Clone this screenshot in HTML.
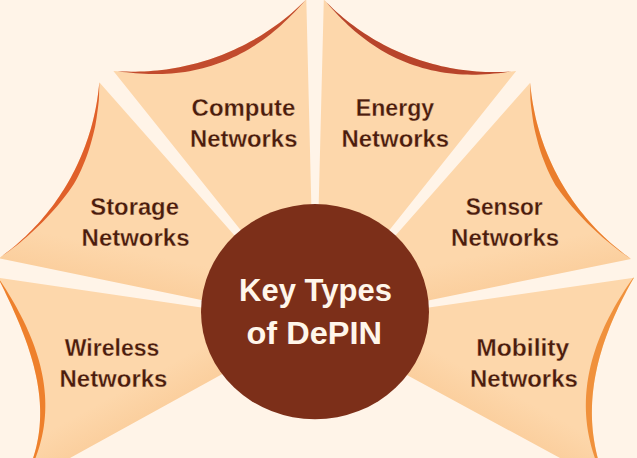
<!DOCTYPE html>
<html><head><meta charset="utf-8"><title>Key Types of DePIN</title>
<style>html,body{margin:0;padding:0;background:#fff4e8;}body{width:637px;height:458px;overflow:hidden}svg{display:block}</style>
</head><body>
<svg width="637" height="458" viewBox="0 0 637 458">
<rect width="637" height="458" fill="#fff4e8"/>
<defs><linearGradient id="gS" gradientUnits="userSpaceOnUse" x1="100.0" y1="279.0" x2="106.9" y2="245.7"><stop offset="0" stop-color="#fbcf9e"/><stop offset="1" stop-color="#fdd7ab"/></linearGradient><linearGradient id="gN" gradientUnits="userSpaceOnUse" x1="530.0" y1="279.6" x2="523.2" y2="246.3"><stop offset="0" stop-color="#fbcf9e"/><stop offset="1" stop-color="#fdd7ab"/></linearGradient><linearGradient id="gW" gradientUnits="userSpaceOnUse" x1="145.0" y1="416.7" x2="128.6" y2="386.9"><stop offset="0" stop-color="#fbcf9e"/><stop offset="1" stop-color="#fdd7ab"/></linearGradient><linearGradient id="gM" gradientUnits="userSpaceOnUse" x1="485.0" y1="417.3" x2="501.2" y2="387.4"><stop offset="0" stop-color="#fbcf9e"/><stop offset="1" stop-color="#fdd7ab"/></linearGradient></defs>
<path d="M113.40,70.90 L117.81,71.21 L122.23,71.45 L126.65,71.60 L131.08,71.68 L135.50,71.67 L139.92,71.58 L144.34,71.42 L148.76,71.17 L153.17,70.85 L157.58,70.44 L161.98,69.95 L166.36,69.39 L170.74,68.74 L175.11,68.02 L179.46,67.21 L183.79,66.33 L188.11,65.37 L192.41,64.33 L196.69,63.21 L200.95,62.02 L205.19,60.75 L209.40,59.40 L213.59,57.97 L217.75,56.47 L221.89,54.90 L225.99,53.25 L230.07,51.52 L234.11,49.73 L238.12,47.86 L242.09,45.91 L246.03,43.90 L249.93,41.81 L253.80,39.66 L257.62,37.43 L261.40,35.14 L265.14,32.77 L268.84,30.34 L272.49,27.84 L276.10,25.28 L279.66,22.65 L283.17,19.96 L286.63,17.21 L290.04,14.39 L293.40,11.51 L296.71,8.57 L299.96,5.57 L303.16,2.51 L306.30,-0.60 L314.19,322.16 Z" fill="#fdd7ab"/>
<path d="M113.40,70.90 L117.81,71.21 L122.23,71.45 L126.65,71.60 L131.08,71.68 L135.50,71.67 L139.92,71.58 L144.34,71.42 L148.76,71.17 L153.17,70.85 L157.58,70.44 L161.98,69.95 L166.36,69.39 L170.74,68.74 L175.11,68.02 L179.46,67.21 L183.79,66.33 L188.11,65.37 L192.41,64.33 L196.69,63.21 L200.95,62.02 L205.19,60.75 L209.40,59.40 L213.59,57.97 L217.75,56.47 L221.89,54.90 L225.99,53.25 L230.07,51.52 L234.11,49.73 L238.12,47.86 L242.09,45.91 L246.03,43.90 L249.93,41.81 L253.80,39.66 L257.62,37.43 L261.40,35.14 L265.14,32.77 L268.84,30.34 L272.49,27.84 L276.10,25.28 L279.66,22.65 L283.17,19.96 L286.63,17.21 L290.04,14.39 L293.40,11.51 L296.71,8.57 L299.96,5.57 L303.16,2.51 L306.30,-0.60 L306.30,-0.60 L303.27,2.63 L300.26,5.89 L297.23,9.14 L294.16,12.38 L291.04,15.58 L287.87,18.74 L284.64,21.85 L281.35,24.90 L278.00,27.90 L274.58,30.83 L271.09,33.70 L267.54,36.48 L263.92,39.19 L260.23,41.82 L256.48,44.36 L252.67,46.81 L248.79,49.17 L244.86,51.43 L240.86,53.60 L236.81,55.66 L232.71,57.62 L228.56,59.47 L224.36,61.21 L220.12,62.85 L215.83,64.37 L211.51,65.79 L207.16,67.09 L202.77,68.28 L198.35,69.35 L193.92,70.32 L189.46,71.17 L184.98,71.90 L180.49,72.53 L175.99,73.05 L171.48,73.46 L166.97,73.76 L162.46,73.96 L157.95,74.06 L153.44,74.07 L148.94,73.98 L144.46,73.81 L139.98,73.55 L135.52,73.22 L131.07,72.83 L126.63,72.37 L122.21,71.88 L117.80,71.37 L113.40,70.90 Z" fill="#c24b2d"/>
<path d="M516.20,71.00 L511.79,71.38 L507.38,71.67 L502.96,71.88 L498.54,72.01 L494.12,72.05 L489.69,72.01 L485.27,71.89 L480.86,71.69 L476.44,71.40 L472.03,71.03 L467.63,70.58 L463.24,70.05 L458.86,69.43 L454.50,68.73 L450.14,67.95 L445.80,67.09 L441.48,66.15 L437.18,65.12 L432.90,64.02 L428.63,62.84 L424.40,61.57 L420.18,60.23 L415.99,58.81 L411.83,57.31 L407.70,55.73 L403.60,54.08 L399.53,52.34 L395.49,50.54 L391.49,48.65 L387.52,46.70 L383.59,44.67 L379.70,42.56 L375.85,40.38 L372.05,38.13 L368.28,35.81 L364.56,33.42 L360.88,30.97 L357.25,28.44 L353.67,25.84 L350.14,23.18 L346.66,20.45 L343.23,17.66 L339.85,14.80 L336.53,11.88 L333.26,8.90 L330.05,5.86 L326.89,2.76 L323.80,-0.40 L315.74,322.49 Z" fill="#fdd7ab"/>
<path d="M516.20,71.00 L511.79,71.38 L507.38,71.67 L502.96,71.88 L498.54,72.01 L494.12,72.05 L489.69,72.01 L485.27,71.89 L480.86,71.69 L476.44,71.40 L472.03,71.03 L467.63,70.58 L463.24,70.05 L458.86,69.43 L454.50,68.73 L450.14,67.95 L445.80,67.09 L441.48,66.15 L437.18,65.12 L432.90,64.02 L428.63,62.84 L424.40,61.57 L420.18,60.23 L415.99,58.81 L411.83,57.31 L407.70,55.73 L403.60,54.08 L399.53,52.34 L395.49,50.54 L391.49,48.65 L387.52,46.70 L383.59,44.67 L379.70,42.56 L375.85,40.38 L372.05,38.13 L368.28,35.81 L364.56,33.42 L360.88,30.97 L357.25,28.44 L353.67,25.84 L350.14,23.18 L346.66,20.45 L343.23,17.66 L339.85,14.80 L336.53,11.88 L333.26,8.90 L330.05,5.86 L326.89,2.76 L323.80,-0.40 L323.80,-0.40 L326.78,2.87 L329.75,6.17 L332.73,9.47 L335.76,12.74 L338.84,15.98 L341.97,19.17 L345.16,22.32 L348.42,25.41 L351.75,28.44 L355.14,31.41 L358.60,34.30 L362.14,37.12 L365.74,39.86 L369.41,42.51 L373.14,45.07 L376.95,47.55 L380.81,49.93 L384.74,52.21 L388.73,54.39 L392.77,56.46 L396.87,58.43 L401.02,60.29 L405.22,62.04 L409.47,63.68 L413.75,65.21 L418.08,66.62 L422.44,67.92 L426.83,69.10 L431.25,70.17 L435.69,71.12 L440.16,71.95 L444.64,72.67 L449.14,73.28 L453.64,73.77 L458.15,74.15 L462.67,74.43 L467.18,74.59 L471.70,74.66 L476.20,74.63 L480.70,74.50 L485.19,74.28 L489.66,73.98 L494.12,73.60 L498.56,73.16 L502.99,72.65 L507.40,72.10 L511.80,71.53 L516.20,71.00 Z" fill="#b8442b"/>
<path d="M99.29,82.34 L98.89,86.68 L98.41,91.01 L97.85,95.33 L97.22,99.65 L96.51,103.94 L95.72,108.23 L94.85,112.50 L93.90,116.75 L92.88,120.99 L91.78,125.20 L90.60,129.40 L89.35,133.57 L88.02,137.72 L86.62,141.85 L85.14,145.94 L83.59,150.02 L81.97,154.06 L80.27,158.07 L78.50,162.05 L76.65,166.00 L74.74,169.91 L72.75,173.79 L70.70,177.63 L68.57,181.43 L66.38,185.20 L64.11,188.92 L61.78,192.60 L59.39,196.24 L56.92,199.84 L54.40,203.39 L51.81,206.89 L49.15,210.34 L46.44,213.75 L43.66,217.11 L40.82,220.41 L37.92,223.67 L34.96,226.87 L31.95,230.01 L28.88,233.10 L25.75,236.14 L22.57,239.11 L19.34,242.03 L16.05,244.89 L12.71,247.69 L9.32,250.43 L5.88,253.10 L2.39,255.72 L-1.14,258.27 L311.57,322.74 Z" fill="url(#gS)"/>
<path d="M99.29,82.34 L98.89,86.68 L98.41,91.01 L97.85,95.33 L97.22,99.65 L96.51,103.94 L95.72,108.23 L94.85,112.50 L93.90,116.75 L92.88,120.99 L91.78,125.20 L90.60,129.40 L89.35,133.57 L88.02,137.72 L86.62,141.85 L85.14,145.94 L83.59,150.02 L81.97,154.06 L80.27,158.07 L78.50,162.05 L76.65,166.00 L74.74,169.91 L72.75,173.79 L70.70,177.63 L68.57,181.43 L66.38,185.20 L64.11,188.92 L61.78,192.60 L59.39,196.24 L56.92,199.84 L54.40,203.39 L51.81,206.89 L49.15,210.34 L46.44,213.75 L43.66,217.11 L40.82,220.41 L37.92,223.67 L34.96,226.87 L31.95,230.01 L28.88,233.10 L25.75,236.14 L22.57,239.11 L19.34,242.03 L16.05,244.89 L12.71,247.69 L9.32,250.43 L5.88,253.10 L2.39,255.72 L-1.14,258.27 L-1.14,258.27 L2.47,255.82 L6.04,253.31 L9.56,250.73 L13.04,248.09 L16.48,245.40 L19.89,242.66 L23.25,239.85 L26.57,236.99 L29.85,234.09 L33.09,231.12 L36.29,228.11 L39.47,225.07 L42.59,221.96 L45.68,218.81 L48.71,215.60 L51.70,212.34 L54.64,209.03 L57.54,205.67 L60.38,202.25 L63.17,198.78 L65.89,195.25 L68.54,191.67 L71.15,188.04 L73.69,184.36 L75.87,180.46 L77.98,176.53 L79.92,172.51 L81.76,168.44 L83.53,164.34 L85.19,160.21 L86.78,156.04 L88.28,151.85 L89.63,147.61 L90.89,143.34 L92.06,139.05 L93.18,134.76 L94.23,130.45 L95.20,126.13 L95.97,121.76 L96.65,117.39 L97.25,113.01 L97.85,108.64 L98.39,104.27 L98.84,99.90 L99.05,95.50 L99.14,91.10 L99.25,86.72 L99.29,82.34 Z" fill="#e0602a"/>
<path d="M530.17,82.64 L530.56,86.99 L531.04,91.33 L531.60,95.66 L532.23,99.99 L532.94,104.30 L533.74,108.59 L534.61,112.87 L535.55,117.14 L536.58,121.38 L537.68,125.61 L538.86,129.82 L540.12,134.00 L541.45,138.16 L542.86,142.30 L544.34,146.40 L545.90,150.49 L547.53,154.54 L549.23,158.56 L551.01,162.55 L552.86,166.51 L554.78,170.43 L556.78,174.32 L558.84,178.17 L560.97,181.98 L563.18,185.75 L565.45,189.48 L567.79,193.17 L570.19,196.82 L572.66,200.42 L575.20,203.98 L577.80,207.49 L580.47,210.95 L583.19,214.36 L585.98,217.72 L588.83,221.03 L591.74,224.29 L594.71,227.49 L597.74,230.64 L600.82,233.74 L603.96,236.78 L607.15,239.76 L610.40,242.68 L613.70,245.54 L617.06,248.34 L620.46,251.08 L623.91,253.76 L627.41,256.37 L630.96,258.92 L318.40,322.97 Z" fill="url(#gN)"/>
<path d="M530.17,82.64 L530.56,86.99 L531.04,91.33 L531.60,95.66 L532.23,99.99 L532.94,104.30 L533.74,108.59 L534.61,112.87 L535.55,117.14 L536.58,121.38 L537.68,125.61 L538.86,129.82 L540.12,134.00 L541.45,138.16 L542.86,142.30 L544.34,146.40 L545.90,150.49 L547.53,154.54 L549.23,158.56 L551.01,162.55 L552.86,166.51 L554.78,170.43 L556.78,174.32 L558.84,178.17 L560.97,181.98 L563.18,185.75 L565.45,189.48 L567.79,193.17 L570.19,196.82 L572.66,200.42 L575.20,203.98 L577.80,207.49 L580.47,210.95 L583.19,214.36 L585.98,217.72 L588.83,221.03 L591.74,224.29 L594.71,227.49 L597.74,230.64 L600.82,233.74 L603.96,236.78 L607.15,239.76 L610.40,242.68 L613.70,245.54 L617.06,248.34 L620.46,251.08 L623.91,253.76 L627.41,256.37 L630.96,258.92 L630.96,258.92 L627.33,256.48 L623.74,253.98 L620.20,251.41 L616.70,248.77 L613.24,246.09 L609.81,243.35 L606.42,240.55 L603.08,237.70 L599.77,234.80 L596.51,231.84 L593.28,228.84 L590.07,225.81 L586.92,222.71 L583.81,219.56 L580.73,216.36 L577.72,213.10 L574.74,209.80 L571.81,206.44 L568.93,203.03 L566.11,199.56 L563.36,196.04 L560.66,192.45 L558.03,188.82 L555.44,185.14 L553.25,181.23 L551.13,177.28 L549.18,173.24 L547.34,169.15 L545.58,165.03 L543.91,160.87 L542.33,156.68 L540.83,152.47 L539.49,148.20 L538.25,143.91 L537.09,139.60 L535.98,135.28 L534.95,130.95 L533.99,126.61 L533.24,122.22 L532.59,117.82 L532.02,113.42 L531.43,109.04 L530.92,104.65 L530.48,100.26 L530.31,95.84 L530.25,91.43 L530.17,87.03 L530.17,82.64 Z" fill="#ea7d2c"/>
<path d="M-2.00,277.70 L-0.36,280.99 L1.26,284.29 L2.88,287.58 L4.47,290.87 L6.06,294.17 L7.62,297.46 L9.17,300.75 L10.69,304.05 L12.20,307.34 L13.68,310.63 L15.13,313.93 L16.56,317.22 L17.96,320.51 L19.34,323.81 L20.68,327.10 L21.99,330.39 L23.27,333.68 L24.51,336.98 L25.72,340.27 L26.88,343.56 L28.01,346.86 L29.10,350.15 L30.15,353.44 L31.15,356.74 L32.11,360.03 L33.02,363.32 L33.89,366.62 L34.70,369.91 L35.47,373.20 L36.18,376.50 L36.84,379.79 L37.44,383.08 L37.99,386.38 L38.48,389.67 L38.91,392.96 L39.28,396.26 L39.58,399.55 L39.83,402.84 L40.01,406.14 L40.12,409.43 L40.16,412.72 L40.14,416.02 L40.04,419.31 L39.87,422.60 L39.63,425.89 L39.31,429.19 L38.92,432.48 L38.45,435.77 L37.90,439.07 L37.27,442.36 L36.55,445.65 L35.75,448.95 L34.87,452.24 L33.90,455.53 L32.84,458.83 L31.69,462.12 L30.46,465.41 L29.12,468.71 L27.70,472.00 L44.59,472.00 L313.28,323.99 Z" fill="url(#gW)"/>
<path d="M-2.00,277.70 L-0.36,280.99 L1.26,284.29 L2.88,287.58 L4.47,290.87 L6.06,294.17 L7.62,297.46 L9.17,300.75 L10.69,304.05 L12.20,307.34 L13.68,310.63 L15.13,313.93 L16.56,317.22 L17.96,320.51 L19.34,323.81 L20.68,327.10 L21.99,330.39 L23.27,333.68 L24.51,336.98 L25.72,340.27 L26.88,343.56 L28.01,346.86 L29.10,350.15 L30.15,353.44 L31.15,356.74 L32.11,360.03 L33.02,363.32 L33.89,366.62 L34.70,369.91 L35.47,373.20 L36.18,376.50 L36.84,379.79 L37.44,383.08 L37.99,386.38 L38.48,389.67 L38.91,392.96 L39.28,396.26 L39.58,399.55 L39.83,402.84 L40.01,406.14 L40.12,409.43 L40.16,412.72 L40.14,416.02 L40.04,419.31 L39.87,422.60 L39.63,425.89 L39.31,429.19 L38.92,432.48 L38.45,435.77 L37.90,439.07 L37.27,442.36 L36.55,445.65 L35.75,448.95 L34.87,452.24 L33.90,455.53 L32.84,458.83 L31.69,462.12 L30.46,465.41 L29.12,468.71 L27.70,472.00 L29.32,472.00 L30.92,468.71 L32.42,465.41 L33.84,462.12 L35.17,458.83 L36.41,455.53 L37.57,452.24 L38.64,448.95 L39.64,445.65 L40.54,442.36 L41.37,439.07 L42.12,435.77 L42.78,432.48 L43.37,429.19 L43.88,425.89 L44.31,422.60 L44.66,419.31 L44.94,416.02 L45.14,412.72 L45.26,409.43 L45.31,406.14 L45.29,402.84 L45.20,399.55 L45.04,396.26 L44.80,392.96 L44.49,389.67 L44.12,386.38 L43.68,383.08 L43.17,379.79 L42.59,376.50 L41.95,373.20 L41.24,369.91 L40.47,366.62 L39.63,363.32 L38.73,360.03 L37.77,356.74 L36.75,353.44 L35.67,350.15 L34.52,346.86 L33.32,343.56 L32.06,340.27 L30.75,336.98 L29.38,333.68 L27.95,330.39 L26.47,327.10 L24.93,323.81 L23.34,320.51 L21.70,317.22 L20.00,313.93 L18.26,310.63 L16.46,307.34 L14.62,304.05 L12.73,300.75 L10.79,297.46 L8.80,294.17 L6.77,290.87 L4.69,287.58 L2.56,284.29 L0.40,280.99 L-1.81,277.70 Z" fill="#ee802c"/>
<path d="M633.89,277.70 L632.02,280.99 L630.19,284.29 L628.39,287.58 L626.62,290.87 L624.90,294.17 L623.21,297.46 L621.55,300.75 L619.94,304.05 L618.36,307.34 L616.82,310.63 L615.32,313.93 L613.87,317.22 L612.45,320.51 L611.08,323.81 L609.74,327.10 L608.45,330.39 L607.21,333.68 L606.00,336.98 L604.85,340.27 L603.73,343.56 L602.67,346.86 L601.64,350.15 L600.67,353.44 L599.74,356.74 L598.87,360.03 L598.04,363.32 L597.26,366.62 L596.53,369.91 L595.85,373.20 L595.22,376.50 L594.65,379.79 L594.12,383.08 L593.65,386.38 L593.24,389.67 L592.87,392.96 L592.57,396.26 L592.31,399.55 L592.12,402.84 L591.98,406.14 L591.90,409.43 L591.87,412.72 L591.91,416.02 L592.00,419.31 L592.15,422.60 L592.37,425.89 L592.64,429.19 L592.98,432.48 L593.38,435.77 L593.84,439.07 L594.36,442.36 L594.95,445.65 L595.60,448.95 L596.32,452.24 L597.10,455.53 L597.95,458.83 L598.87,462.12 L599.85,465.41 L600.91,468.71 L602.03,472.00 L585.82,472.00 L313.38,324.27 Z" fill="url(#gM)"/>
<path d="M633.89,277.70 L632.02,280.99 L630.19,284.29 L628.39,287.58 L626.62,290.87 L624.90,294.17 L623.21,297.46 L621.55,300.75 L619.94,304.05 L618.36,307.34 L616.82,310.63 L615.32,313.93 L613.87,317.22 L612.45,320.51 L611.08,323.81 L609.74,327.10 L608.45,330.39 L607.21,333.68 L606.00,336.98 L604.85,340.27 L603.73,343.56 L602.67,346.86 L601.64,350.15 L600.67,353.44 L599.74,356.74 L598.87,360.03 L598.04,363.32 L597.26,366.62 L596.53,369.91 L595.85,373.20 L595.22,376.50 L594.65,379.79 L594.12,383.08 L593.65,386.38 L593.24,389.67 L592.87,392.96 L592.57,396.26 L592.31,399.55 L592.12,402.84 L591.98,406.14 L591.90,409.43 L591.87,412.72 L591.91,416.02 L592.00,419.31 L592.15,422.60 L592.37,425.89 L592.64,429.19 L592.98,432.48 L593.38,435.77 L593.84,439.07 L594.36,442.36 L594.95,445.65 L595.60,448.95 L596.32,452.24 L597.10,455.53 L597.95,458.83 L598.87,462.12 L599.85,465.41 L600.91,468.71 L602.03,472.00 L600.44,472.00 L599.00,468.71 L597.65,465.41 L596.37,462.12 L595.16,458.83 L594.03,455.53 L592.98,452.24 L592.00,448.95 L591.09,445.65 L590.25,442.36 L589.49,439.07 L588.81,435.77 L588.19,432.48 L587.65,429.19 L587.17,425.89 L586.77,422.60 L586.44,419.31 L586.18,416.02 L585.99,412.72 L585.87,409.43 L585.82,406.14 L585.84,402.84 L585.92,399.55 L586.07,396.26 L586.29,392.96 L586.58,389.67 L586.93,386.38 L587.35,383.08 L587.84,379.79 L588.39,376.50 L589.01,373.20 L589.69,369.91 L590.43,366.62 L591.24,363.32 L592.11,360.03 L593.04,356.74 L594.04,353.44 L595.10,350.15 L596.22,346.86 L597.40,343.56 L598.64,340.27 L599.94,336.98 L601.31,333.68 L602.73,330.39 L604.21,327.10 L605.75,323.81 L607.35,320.51 L609.00,317.22 L610.72,313.93 L612.49,310.63 L614.32,307.34 L616.20,304.05 L618.14,300.75 L620.14,297.46 L622.19,294.17 L624.29,290.87 L626.45,287.58 L628.66,284.29 L630.93,280.99 L633.25,277.70 Z" fill="#f0913c"/>
<ellipse cx="315" cy="311.7" rx="114" ry="107.6" fill="#7c2f19"/>
<g font-family="'Liberation Sans', Arial, sans-serif" font-weight="700" font-size="24.2" fill="#4a1d0e" stroke="#fdd7ab" stroke-width="0.3">
<text x="191.6" y="115.5" textLength="103.8" lengthAdjust="spacingAndGlyphs">Compute</text>
<text x="190.1" y="146.5" textLength="107.3" lengthAdjust="spacingAndGlyphs">Networks</text>
<text x="355.8" y="115.5" textLength="78.3" lengthAdjust="spacingAndGlyphs">Energy</text>
<text x="341.6" y="146.5" textLength="107.5" lengthAdjust="spacingAndGlyphs">Networks</text>
<text x="90.3" y="214.9" textLength="88.6" lengthAdjust="spacingAndGlyphs">Storage</text>
<text x="81.6" y="245.9" textLength="107.9" lengthAdjust="spacingAndGlyphs">Networks</text>
<text x="465.8" y="214.7" textLength="76.9" lengthAdjust="spacingAndGlyphs">Sensor</text>
<text x="451.1" y="245.9" textLength="108.0" lengthAdjust="spacingAndGlyphs">Networks</text>
<text x="64.8" y="355.5" textLength="94.5" lengthAdjust="spacingAndGlyphs">Wireless</text>
<text x="59.5" y="386.5" textLength="107.9" lengthAdjust="spacingAndGlyphs">Networks</text>
<text x="476.2" y="355.5" textLength="93.1" lengthAdjust="spacingAndGlyphs">Mobility</text>
<text x="470.1" y="386.5" textLength="107.7" lengthAdjust="spacingAndGlyphs">Networks</text>
</g>
<g font-family="'Liberation Sans', Arial, sans-serif" font-weight="700" font-size="31.4" fill="#fff6ea">
<text x="239.1" y="301.2" textLength="152.8" lengthAdjust="spacingAndGlyphs">Key Types</text>
<text x="246.5" y="343.5" textLength="135.5" lengthAdjust="spacingAndGlyphs">of DePIN</text>
</g>
</svg>
</body></html>
